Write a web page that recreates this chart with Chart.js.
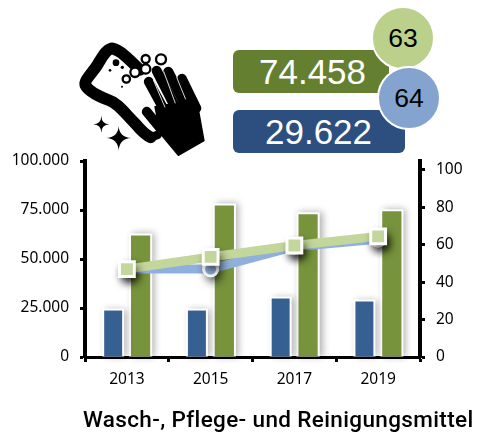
<!DOCTYPE html>
<html><head><meta charset="utf-8">
<style>
html,body{margin:0;padding:0;background:#fff;width:477px;height:437px;overflow:hidden}
#wrap{position:relative;width:477px;height:437px}
canvas{position:absolute;left:0;top:0}
.box{position:absolute;border-radius:6px;color:#fff;font:35px "Liberation Sans",sans-serif;line-height:43px}
.circ{position:absolute;border-radius:50%;border:2px solid #fff;box-sizing:border-box;width:64px;height:64px;color:#000;text-align:center;font:26.5px/60px "Liberation Sans",sans-serif}
svg{position:absolute;left:60px;top:0}
#ttl{position:absolute;left:83px;top:405px;white-space:nowrap;color:#000;font:500 22.5px/28px Roboto,sans-serif;letter-spacing:.36px}
</style></head><body>
<div id="wrap">
<canvas id="c" width="477" height="437"></canvas>
<svg width="200" height="160" viewBox="0 0 600 480">
 <path d="M155 145 C135 150 125 175 112 195 C100 215 72 240 76 255 C85 275 120 290 140 298 C175 310 190 335 225 370 C240 388 255 405 272 412 M155 145 C180 150 205 175 240 210" fill="none" stroke="#000" stroke-width="35" stroke-linejoin="round" stroke-linecap="round"/>
 <path d="M272 412 L292 405" stroke="#000" stroke-width="26" stroke-linecap="round"/>
 <g fill="#000"><circle cx="168" cy="188" r="10"/><circle cx="187" cy="202" r="5"/><circle cx="150" cy="211" r="4"/><circle cx="186" cy="260" r="3"/></g>
 <g fill="#fff" stroke="#000" stroke-width="7"><circle cx="303" cy="178" r="15"/><circle cx="257" cy="177" r="12"/><circle cx="257" cy="207" r="14"/><circle cx="225" cy="217" r="14"/><circle cx="199" cy="237" r="11"/></g>
 <g stroke="#fff" stroke-width="12"><path d="M250 238 L300 330" /></g>
 <g fill="none" stroke="#000" stroke-linecap="round"><path d="M266 245 L315 335" stroke-width="29"/><path d="M290 212 L345 320" stroke-width="30"/><path d="M325 215 L378 320" stroke-width="30"/><path d="M366 235 L410 325" stroke-width="28"/><path d="M260 335 L305 390" stroke-width="29"/></g>
 <path d="M285 320 L410 300 L432 422 L355 466 L300 400 Z" fill="#000" stroke="#000" stroke-width="4" stroke-linejoin="round"/>
 <g fill="none" stroke="#fff" stroke-width="2.5"><path d="M280 240 L315 322"/><path d="M311 214 L346 310"/><path d="M350 232 L377 298"/></g>
 <g fill="#000"><path d="M124 348 Q125 372 148 373 Q125 374 124 398 Q123 374 100 373 Q123 372 124 348Z"/><path d="M176 378 Q178 412 214 414 Q178 416 176 452 Q174 416 138 414 Q174 412 176 378Z"/></g>
</svg>
<div class="box" id="bg" style="left:233px;top:50px;width:156px;height:43px;background:#647f30;padding-left:26px;box-sizing:border-box"></div>
<div class="box" id="bb" style="left:233px;top:110px;width:172px;height:43px;background:#2c4f7f;padding-left:32px;box-sizing:border-box"></div>
<div class="circ" id="cg" style="left:371px;top:6px;background:#bbd08a"></div>
<div class="circ" id="cb" style="left:377px;top:66px;background:#84a3cf"></div>
<div id="ttl"></div>
</div>
<script src="https://cdn.jsdelivr.net/npm/chart.js@4"></script>
<script>
const categories = ['2013','2015','2017','2019'];
const blueBars = [23700,23700,29800,28300];
const greenBars = [62000,77300,72800,74300];
const blueLine = [47,47,59,63];
const greenLine = [47,53.5,59.6,64.5];
const leftTicks = [0,25000,50000,75000,100000];
const leftLabels = ['0','25.000','50.000','75.000','100.000'];
const rightTicks = [0,20,40,60,80,100];
const titleText = 'Wasch-, Pflege- und Reinigungsmittel';
const greenTotal = '74.458';
const blueTotal = '29.622';
const greenShare = '63';
const blueShare = '64';

document.getElementById('bg').textContent = greenTotal;
document.getElementById('bb').textContent = blueTotal;
document.getElementById('cg').textContent = greenShare;
document.getElementById('cb').textContent = blueShare;
document.getElementById('ttl').textContent = titleText;

const tickFont = {family:'"Noto Sans"',size:15.5};
const shadowPlugin = {
  id:'softShadow',
  beforeDatasetDraw(chart,args){
    const ds = chart.data.datasets[args.index];
    if(!ds.halo) return;
    const ctx = chart.ctx, meta = args.meta;
    ctx.save();
    ctx.fillStyle = '#fff';
    if(ds.halo==='bar'){
      ctx.shadowColor='rgba(0,0,0,.3)';ctx.shadowBlur=7;ctx.shadowOffsetX=3;ctx.shadowOffsetY=0;
      meta.data.forEach(el=>{
        const w=el.width/2+2;
        ctx.fillRect(el.x-w,el.y-2,w*2,el.base-el.y+2);
      });
    } else {
      ctx.shadowColor='rgba(0,0,0,.65)';ctx.shadowBlur=9;ctx.shadowOffsetX=3;ctx.shadowOffsetY=5;
      meta.data.forEach(el=>{
        ctx.beginPath();
        if(ds.halo==='rect') ctx.rect(el.x-8,el.y-8,16,16); else ctx.arc(el.x,el.y,8,0,Math.PI*2);
        ctx.fill();
      });
    }
    ctx.restore();
  }
};
new Chart(document.getElementById('c'),{
  data:{labels:categories,datasets:[
    {type:'line',yAxisID:'y2',order:1,data:greenLine,showLine:false,pointStyle:'rect',pointRadius:10.5,pointBackgroundColor:'#c3d69b',pointBorderColor:'#fff',pointBorderWidth:3,halo:'rect'},
    {type:'line',yAxisID:'y2',order:2,data:greenLine,borderColor:'#c3d69b',borderWidth:9,pointRadius:0,tension:0},
    {type:'line',yAxisID:'y2',order:3,data:blueLine,showLine:false,pointStyle:'circle',pointRadius:7,pointBackgroundColor:'#8fb0dc',pointBorderColor:'#fff',pointBorderWidth:3,halo:'circle'},
    {type:'line',yAxisID:'y2',order:4,data:blueLine,borderColor:'#8fb0dc',borderWidth:9,pointRadius:0,tension:0},
    {type:'bar',yAxisID:'y',order:5,data:blueBars,backgroundColor:'#376092',borderWidth:0,barPercentage:.655,categoryPercentage:.655,halo:'bar'},
    {type:'bar',yAxisID:'y',order:5,data:greenBars,backgroundColor:'#77933c',borderWidth:0,barPercentage:.7,categoryPercentage:.655,halo:'bar'}
  ]},
  options:{
    responsive:false,animation:false,
    layout:{padding:{top:161,left:0,right:0,bottom:0}},
    plugins:{legend:{display:false},tooltip:{enabled:false},title:{display:false}},
    scales:{
      x:{offset:true,
        border:{display:true,color:'#000',width:3},
        grid:{drawOnChartArea:false,drawTicks:true,tickLength:5,tickWidth:3,tickColor:'#000',offset:true},
        ticks:{font:tickFont,color:'#000',padding:8,maxRotation:0},
        afterFit(s){s.height=80;}},
      y:{position:'left',min:0,max:100000,
        border:{display:true,color:'#000',width:4},
        grid:{drawOnChartArea:false,tickLength:5,tickWidth:3,tickColor:'#000'},
        ticks:{font:tickFont,color:'#000',padding:11,callback:v=>leftLabels[leftTicks.indexOf(v)]},
        afterBuildTicks(s){s.ticks=leftTicks.map(v=>({value:v}));},
        afterFit(s){s.width=85;}},
      y2:{position:'right',min:0,max:104.8,
        border:{display:true,color:'#000',width:4},
        grid:{drawOnChartArea:false,tickLength:5,tickWidth:3,tickColor:'#000'},
        ticks:{font:tickFont,color:'#000',padding:11},
        afterBuildTicks(s){s.ticks=rightTicks.map(v=>({value:v}));},
        afterFit(s){s.width=57;}}
    }
  },
  plugins:[shadowPlugin]
});
</script>
</body></html>
